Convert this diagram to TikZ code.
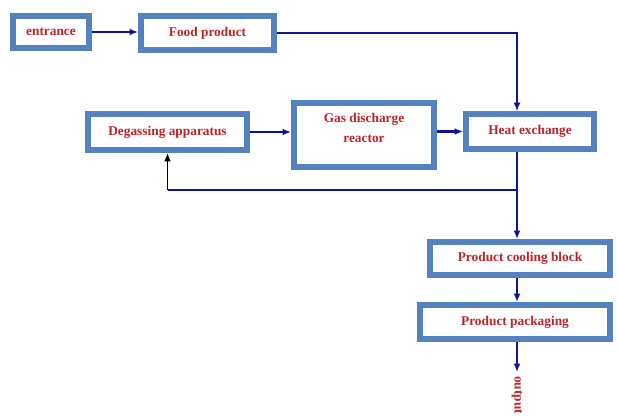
\documentclass[tikz,border=0pt]{standalone}
\usepackage{fontspec}
\setmainfont{Liberation Serif}
\usetikzlibrary{arrows.meta}
\definecolor{boxblue}{RGB}{84,130,190}
\definecolor{textred}{RGB}{190,35,40}
\definecolor{linenavy}{RGB}{15,20,150}
\begin{document}
\begin{tikzpicture}[
  box/.style={draw=boxblue, line width=0.15cm, fill=white, inner sep=0pt,
    font=\fontsize{9.5}{14}\selectfont\bfseries, text=textred, align=center},
  flow/.style={draw=linenavy, line width=1.6pt, -{Latex[length=6pt,width=5pt]}},
  thin/.style={draw=linenavy, line width=0.8pt},
  back/.style={draw=black, line width=1.2pt, -{Latex[length=6pt,width=5pt]}}]
  \useasboundingbox (0,0) rectangle (15.425,-10.4);
  \clip (0,0) rectangle (15.425,-10.4);
  \node[box, minimum width=1.9cm, minimum height=0.8cm] (entrance) at (1.275,-0.8) {entrance};
  \node[box, minimum width=3.325cm, minimum height=0.85cm] (food) at (5.1875,-0.825) {Food product};
  \node[box, minimum width=3.975cm, minimum height=0.9cm] (degas) at (4.1875,-3.3) {Degassing apparatus};
  \node[box, minimum width=3.5cm, minimum height=1.6cm, text depth=0.35cm] (reactor) at (9.1,-3.375) {Gas discharge\\reactor};
  \node[box, minimum width=3.2cm, minimum height=0.875cm] (heat) at (13.25,-3.2875) {Heat exchange};
  \node[box, minimum width=4.5cm, minimum height=0.825cm] (cooling) at (13.0,-6.4625) {Product cooling block};
  \node[box, minimum width=4.75cm, minimum height=0.85cm] (packaging) at (12.875,-8.05) {Product packaging};
  \coordinate (spine) at (12.925,0);
  \coordinate (split) at (12.925,-4.75);
  \coordinate (out) at (12.925,-9.3);
  \node[rotate=-90, anchor=west, inner sep=0pt, font=\fontsize{9.5}{11}\selectfont\bfseries, text=textred] (output) at (12.925,-9.4) {output};
  \draw[flow] (entrance.east) -- (entrance.east -| food.west); % entrance -- food
  \draw[thin, -{Latex[length=6pt,width=5pt]}] (food.east) -- (food.east -| spine) -- (heat.north -| spine); % food -- heat
  \draw[flow] (degas.east) -- (degas.east -| reactor.west); % degas -- reactor
  \draw[flow] (heat.west -| reactor.east) -- (heat.west); % reactor -- heat
  \draw[flow] (heat.south -| spine) -- (cooling.north -| spine); % heat -- cooling
  \draw[thin] (split) -- (split -| degas.south); % split -- degas
  \draw[back] (split -| degas.south) -- (degas.south); % back to degas
  \draw[flow] (cooling.south -| spine) -- (packaging.north -| spine); % cooling -- packaging
  \draw[flow] (packaging.south -| spine) -- (out); % packaging -- output
\end{tikzpicture}
\end{document}
